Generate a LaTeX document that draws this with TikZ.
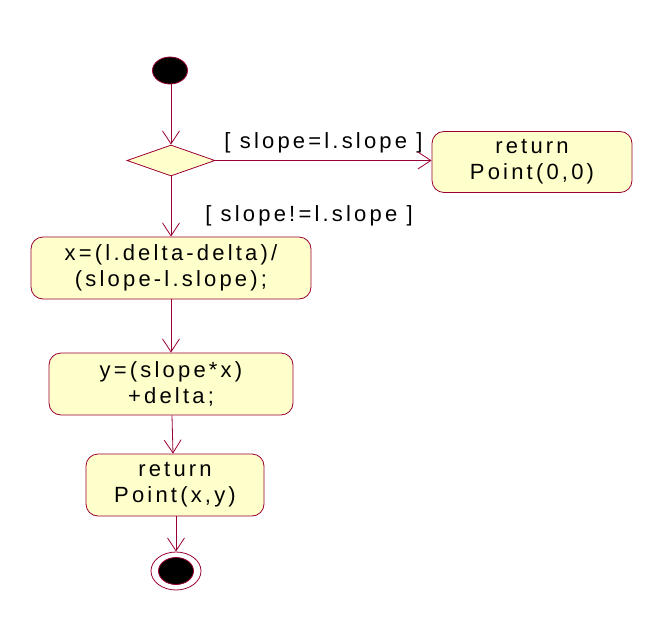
\documentclass[tikz,border=0pt]{standalone}
\usepackage{fontspec}
\setmainfont{Liberation Sans}[LetterSpace=14.5]
\usetikzlibrary{arrows.meta,shapes.geometric}
\definecolor{lc}{HTML}{990033}
\definecolor{fc}{HTML}{FFFFCC}
\tikzset{
  act/.style={draw=lc, fill=fc, rounded corners=12pt, line width=0.8pt, align=center, inner sep=0pt, font=\fontsize{22}{26}\selectfont},
  flow/.style={draw=lc, line width=0.8pt, -{Straight Barb[length=13pt,width=17pt,line width=0.8pt]}},
  guard/.style={font=\fontsize{22}{26}\selectfont, inner sep=0pt},
}
\begin{document}
\begin{tikzpicture}[x=1pt,y=-1pt]
\useasboundingbox (0,0) rectangle (664,632);
\node[ellipse, draw=lc, fill=black, line width=0.8pt, minimum width=35pt, minimum height=27pt, inner sep=0pt] (start) at (170,70.5) {};
\node[diamond, draw=lc, fill=fc, line width=0.8pt, minimum width=88pt, minimum height=31pt, inner sep=0pt] (dia) at (171,160.5) {};
\node[act, minimum width=200pt, minimum height=61pt] (r0) at (532,162) {return\\Point(0,0)};
\node[act, minimum width=280pt, minimum height=62pt] (b1) at (171,268) {x=(l.delta-delta)/\\(slope-l.slope);};
\node[act, minimum width=244pt, minimum height=62pt] (b2) at (171,384) {y=(slope*x)\\+delta;};
\node[act, minimum width=178pt, minimum height=62pt] (b3) at (175,485) {return\\Point(x,y)};
\node[ellipse, draw=lc, line width=0.8pt, minimum width=50pt, minimum height=38pt, inner sep=0pt] (endo) at (176,571) {};
\node[ellipse, draw=lc, fill=black, line width=0.8pt, minimum width=35pt, minimum height=27pt, inner sep=0pt] (endi) at (176,571) {};
\node[guard] (g1) at (323.5,142.5) {[ slope=l.slope ]};
\node[guard] (g2) at (309,216) {[ slope!=l.slope ]};
\draw[flow] (start.south -| dia.north) -- (dia.north);
\draw[flow] (dia.east) -- (dia.east -| r0.west);
\draw[flow] (dia.south) -- (b1.north);
\draw[flow] (b1.south) -- (b2.north);
\draw[flow] ([xshift=1pt]b2.south) -- ([xshift=-2pt]b3.north);
\draw[flow] ([xshift=1pt]b3.south) -- (endo.north);
\end{tikzpicture}
\end{document}
